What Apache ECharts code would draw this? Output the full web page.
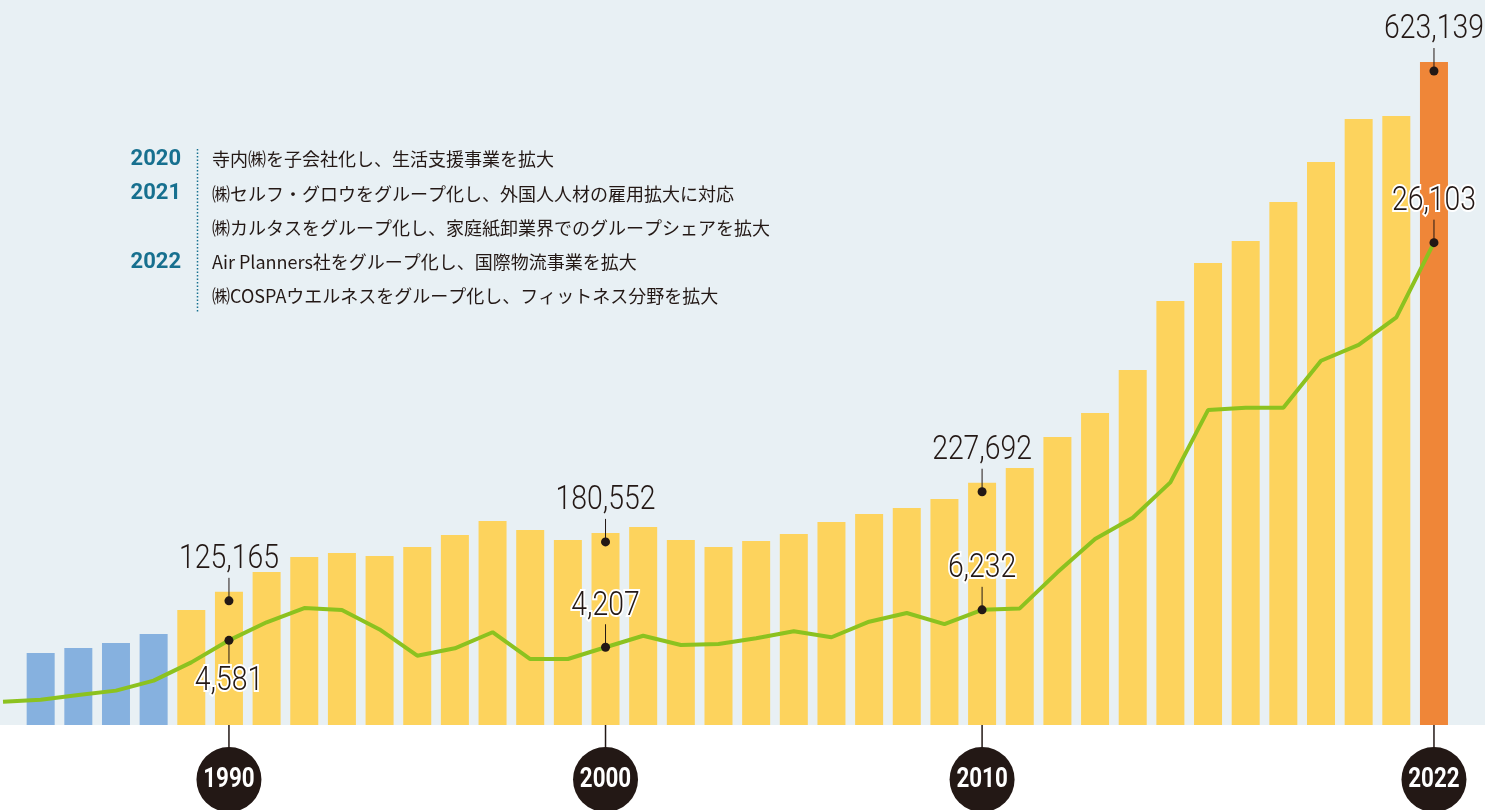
<!DOCTYPE html>
<html>
<head>
<meta charset="utf-8">
<title>chart</title>
<script src="https://cdn.jsdelivr.net/npm/echarts@6/dist/echarts.min.js"></script>
<style>
  html, body { margin: 0; padding: 0; background: #fff; }
  #chart { width: 1485px; height: 810px; }
</style>
</head>
<body>
<div id="chart"></div>
<script>
// 1984 only carries the start of the line (no bar)
const years = [1984, 1985, 1986, 1987, 1988, 1989, 1990, 1991, 1992, 1993,
  1994, 1995, 1996, 1997, 1998, 1999, 2000, 2001, 2002, 2003,
  2004, 2005, 2006, 2007, 2008, 2009, 2010, 2011, 2012, 2013,
  2014, 2015, 2016, 2017, 2018, 2019, 2020, 2021, 2022]

const barValues = [null, 67700, 72400, 77100, 85500, 108100, 125165, 143800, 157900, 161700,
  158800, 167300, 178600, 191700, 183300, 173900, 180552, 186100, 173900, 167300,
  172900, 179500, 190800, 198300, 204000, 212400, 227692, 241600, 270700, 293200,
  333700, 398500, 434200, 454900, 491600, 529200, 569600, 572400, 623139]

const lineValues = [1260, 1370, 1620, 1860, 2400, 3390, 4581, 5560, 6330, 6220,
  5170, 3750, 4150, 5020, 3570, 3570, 4207, 4830, 4330, 4380,
  4690, 5070, 4750, 5590, 6060, 5460, 6232, 6310, 8260, 10060,
  11220, 13130, 17040, 17170, 17170, 19710, 20570, 22060, 26103]

const noteYears = [1990, 2000, 2010, 2022]
const lineNoteBelow = [1990]
const badgeYears = [1990, 2000, 2010, 2022]

const historyYears = ['2020', '2021', '', '2022', '']
const historyTexts = [
  '寺内㈱を子会社化し、生活支援事業を拡大',
  '㈱セルフ・グロウをグループ化し、外国人人材の雇用拡大に対応',
  '㈱カルタスをグループ化し、家庭紙卸業界でのグループシェアを拡大',
  'Air Planners社をグループ化し、国際物流事業を拡大',
  '㈱COSPAウエルネスをグループ化し、フィットネス分野を拡大'
]

const dark = '#231815'
const teal = '#17708f'
const numFont = '"Roboto", "Noto Sans", sans-serif'

const chart = echarts.init(document.getElementById('chart'))

function pairs(list) {
  return years.map(function(y, i) { return [y, list[i]] })
}

function noteData(list, yrs) {
  return yrs.map(function(y) {
    return [y, list[years.indexOf(y)]]
  })
}

function noteRenderer(offset, isBelow, halo) {
  return function(params, api) {
    const p = api.coord([api.value(0), api.value(1)])
    const x = p[0]
    const y = p[1] + offset
    const dir = isBelow(api.value(0)) ? 1 : -1
    const text = api.value(1).toLocaleString('en-US')
    return {
      type: 'group',
      children: [
        { type: 'line', shape: { x1: x, y1: y, x2: x, y2: y + dir * 23 }, style: { stroke: dark, lineWidth: 1 } },
        { type: 'circle', shape: { cx: x, cy: y, r: 4.5 }, style: { fill: dark } },
        {
          type: 'text', x: x, y: y + dir * 41, scaleX: 0.86,
          style: {
            text: text, fill: dark, fontFamily: numFont, fontSize: 33, fontWeight: 300,
            align: 'center', verticalAlign: 'middle',
            stroke: halo ? '#fff' : null, lineWidth: halo ? 4 : 0
          }
        }
      ]
    }
  }
}

const graphics = [
  { type: 'rect', left: 0, top: 725, shape: { width: 1485, height: 85 }, style: { fill: '#fff' }, z: 0 },
  { type: 'line', shape: { x1: 197.5, y1: 149, x2: 197.5, y2: 312 }, style: { stroke: teal, lineWidth: 1.5, lineDash: [1.5, 2] } }
]
historyTexts.forEach(function(t, i) {
  const cy = 159.5 + i * 34.2
  if (historyYears[i]) {
    graphics.push({
      type: 'text', x: 181, y: cy,
      style: { text: historyYears[i], fill: teal, fontFamily: numFont, fontSize: 22, fontWeight: 'bold', align: 'right', verticalAlign: 'middle' }
    })
  }
  graphics.push({
    type: 'text', x: 212, y: cy,
    style: { text: t, fill: dark, fontFamily: '"Noto Sans CJK JP", sans-serif', fontSize: 18, align: 'left', verticalAlign: 'middle' }
  })
})

chart.setOption({
  backgroundColor: '#e8f0f4',
  animation: false,
  grid: {
    left: 0,
    right: 32.2,
    top: 22.8,
    bottom: 85
  },
  xAxis: {
    type: 'value',
    min: 1983.92,
    max: 2022.5,
    show: false
  },
  yAxis: [{
    type: 'value',
    min: 0,
    max: 660000,
    show: false
  }, {
    type: 'value',
    min: 0,
    max: 38000,
    show: false
  }],
  graphic: graphics,
  series: [{
    type: 'bar',
    barWidth: 28,
    itemStyle: {
      color: function(p) {
        const y = p.data[0]
        if (y === 2022) return '#ef8638'
        if (y < 1989) return '#86b1df'
        return '#fdd35d'
      }
    },
    data: pairs(barValues)
  }, {
    type: 'line',
    yAxisIndex: 1,
    symbol: 'none',
    lineStyle: { color: '#8cc21f', width: 4 },
    z: 3,
    data: pairs(lineValues)
  }, {
    type: 'custom',
    z: 5,
    encode: { x: 0, y: 1 },
    renderItem: noteRenderer(9, function() { return false }, false),
    data: noteData(barValues, noteYears)
  }, {
    type: 'custom',
    yAxisIndex: 1,
    z: 6,
    encode: { x: 0, y: 1 },
    renderItem: noteRenderer(0, function(y) { return lineNoteBelow.indexOf(y) >= 0 }, true),
    data: noteData(lineValues, noteYears)
  }, {
    type: 'custom',
    z: 5,
    encode: { x: 0, y: 1 },
    renderItem: function(params, api) {
      const p = api.coord([api.value(0), 0])
      const x = p[0]
      const y = p[1]
      return {
        type: 'group',
        children: [
          { type: 'line', shape: { x1: x, y1: y, x2: x, y2: y + 30 }, style: { stroke: dark, lineWidth: 1.5 } },
          { type: 'circle', shape: { cx: x, cy: y + 54.5, r: 32.5 }, style: { fill: dark } },
          {
            type: 'text', x: x, y: y + 55, scaleX: 0.8,
            style: {
              text: String(api.value(0)), fill: '#fff', fontFamily: numFont, fontSize: 28, fontWeight: 'bold',
              align: 'center', verticalAlign: 'middle'
            }
          }
        ]
      }
    },
    data: badgeYears.map(function(y) { return [y, 0] })
  }]
})
</script>
</body>
</html>
